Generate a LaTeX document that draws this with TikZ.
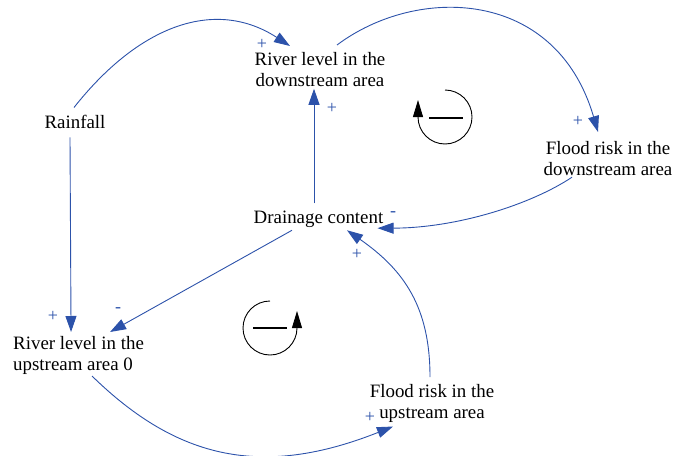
\documentclass[tikz,border=0pt]{standalone}
\usepackage{fontspec}
\setmainfont{Liberation Serif}
\usetikzlibrary{arrows.meta,calc}
\definecolor{linkblue}{RGB}{44,82,170}
\begin{document}
\begin{tikzpicture}[x=1pt,y=-1pt,
  var/.style={inner sep=0pt, font=\fontsize{18.9}{21.5}\selectfont, align=center},
  link/.style={draw=linkblue, line width=0.9pt, -{Triangle[length=16pt,width=11pt]}},
  sign/.style={text=linkblue, font=\fontsize{18}{18}\selectfont, inner sep=0pt},
  loopcirc/.style={draw=black, line width=0.9pt, -{Triangle[length=17pt,width=10pt]}},
  loopbar/.style={draw=black, line width=2pt}]
\useasboundingbox (0,0) rectangle (685,455);

% variables
\node[var, anchor=base] (rain) at (75,128.5) {Rainfall};
\node[var, anchor=north] (rivd) at (320,52) {River level in the\\downstream area};
\node[var, anchor=north] (fdown) at (608,141) {Flood risk in the\\downstream area};
\node[var, anchor=base] (drain) at (318.5,223) {Drainage content};
\node[var, anchor=north west, align=left] (rivu) at (13,336) {River level in the\\upstream area 0};
\node[var, anchor=north] (fup) at (432,384) {Flood risk in the\\upstream area};

% causal links
\draw[link] ([xshift=-1pt,yshift=7.5pt]rain.north) .. controls (140,24) and (216,-2) .. ([xshift=-30pt,yshift=6pt]rivd.north);
\draw[link] ([xshift=17pt,yshift=7pt]rivd.north) .. controls (417,-15) and (556,-12) .. ([xshift=-10pt,yshift=9pt]fdown.north);
\draw[link] ([xshift=-36pt,yshift=-1pt]fdown.south) .. controls (531,204.5) and (457,228) .. ([xshift=-6pt,yshift=-9.4pt]drain.east);
\draw[link] ([xshift=-2pt,yshift=7pt]fup.north) .. controls (430,307) and (404,270) .. ([xshift=28.5pt,yshift=-3pt]drain.south);
\draw[link] ([xshift=13.5pt,yshift=-1pt]rivu.south) .. controls (178,460) and (263,478) .. ([xshift=-39pt,yshift=-3.5pt]fup.south);
\draw[link] ([xshift=-4.5pt,yshift=7pt]drain.north) -- ([xshift=-6pt,yshift=-1.6pt]rivd.south);
\draw[link] ([xshift=-26.5pt,yshift=-3pt]drain.south) -- ([xshift=31.5pt,yshift=4pt]rivu.north);
\draw[link] ([xshift=-5pt,yshift=-8.5pt]rain.south) -- ([xshift=-7.5pt,yshift=4pt]rivu.north);

% link polarities
\node[sign] (s1) at (262,44) {+};
\node[sign] (s2) at (578,121) {+};
\node[sign] (s3) at (393,214) {-};
\node[sign] (s4) at (332,108) {+};
\node[sign] (s5) at (118,310) {-};
\node[sign] (s6) at (53,316) {+};
\node[sign] (s7) at (370,417) {+};
\node[sign] (s8) at (357,254) {+};

% loop markers
\draw[loopcirc] (445,90) arc[start angle=-90, end angle=180, radius=27] -- ++(0,-17);
\draw[loopbar] (429,118) -- (463,118);
\draw[loopcirc] (270,301) arc[start angle=-90, end angle=-360, radius=27] -- ++(0,-17);
\draw[loopbar] (253,328) -- (287,328);
\end{tikzpicture}
\end{document}
